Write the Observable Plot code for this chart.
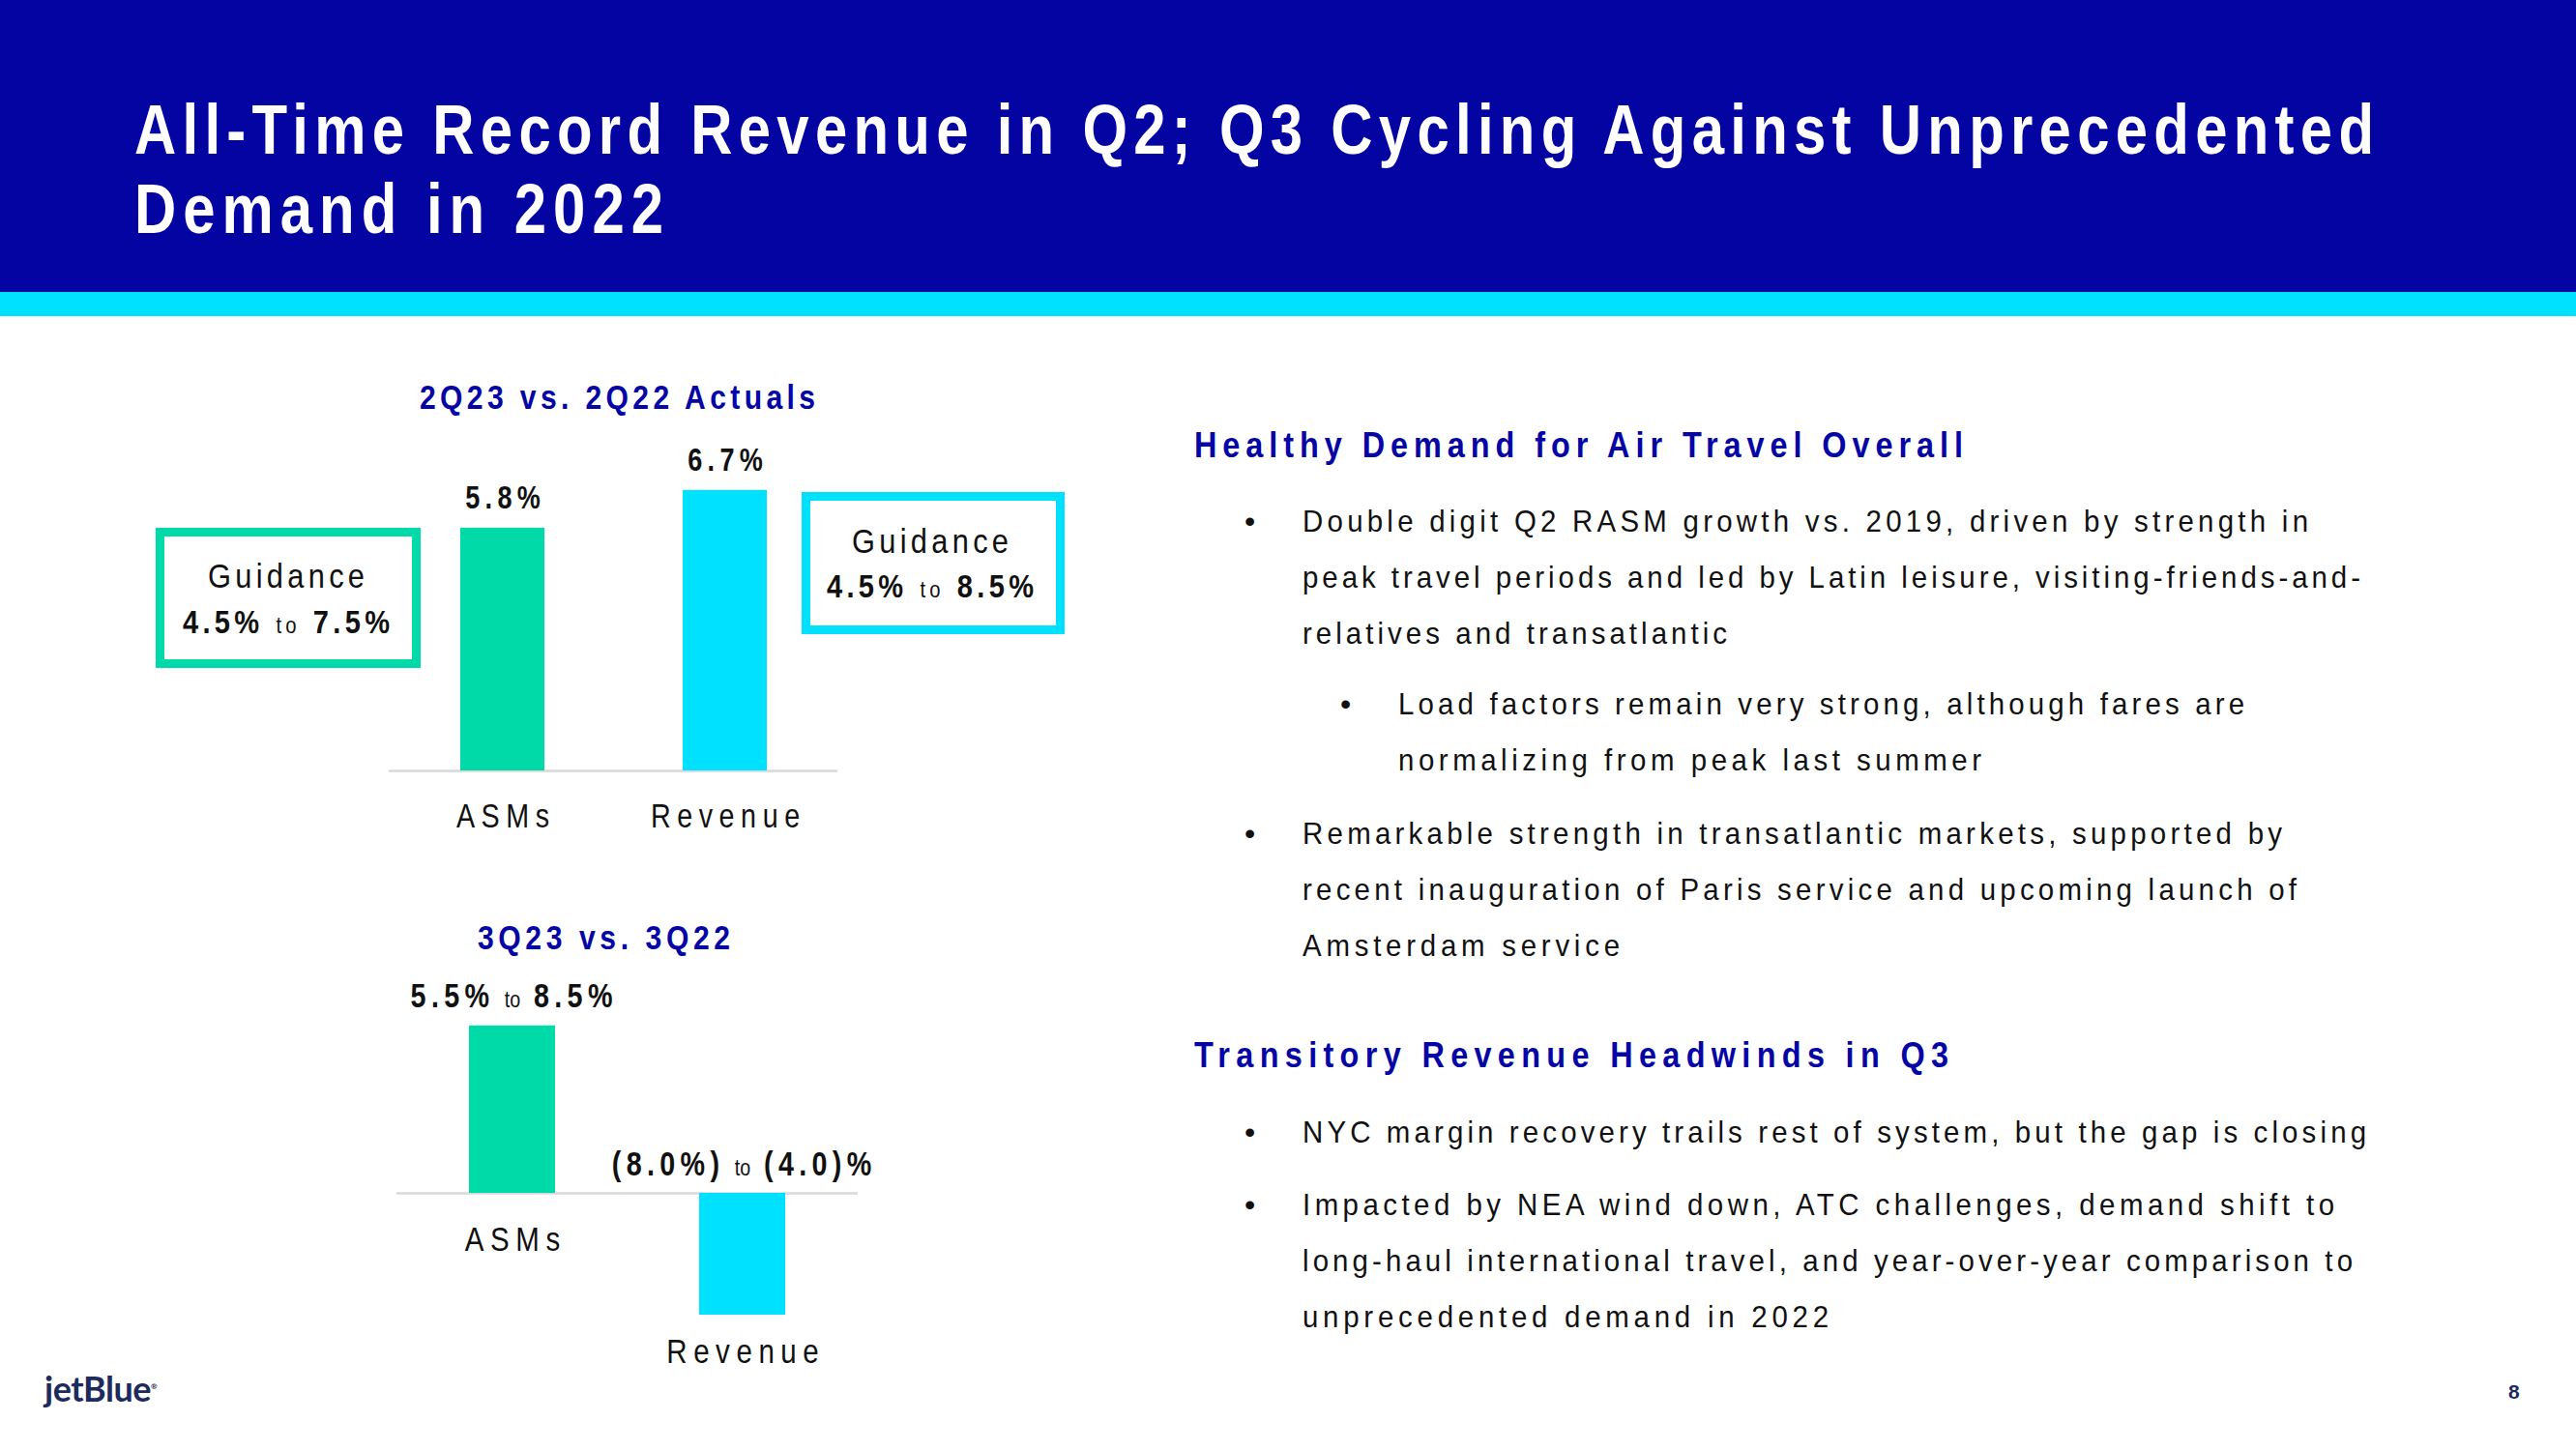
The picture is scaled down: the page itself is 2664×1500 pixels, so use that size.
<!DOCTYPE html>
<html>
<head>
<meta charset="utf-8">
<script src="https://cdn.jsdelivr.net/npm/d3@7"></script>
<script src="https://cdn.jsdelivr.net/npm/@observablehq/plot@0.6"></script>
<style>
html, body { margin: 0; padding: 0; background: #fff; }
#page { position: relative; width: 2664px; height: 1500px; overflow: hidden; background: #fff;
  font-family: "Liberation Sans Narrow", "Arial Narrow", "Liberation Sans", Arial, sans-serif; }
#header { position: absolute; left: 0; top: 0; width: 2664px; height: 302px; background: #0404A3; }
#stripe { position: absolute; left: 0; top: 302px; width: 2664px; height: 25px; background: #00E0FF; }
.txt { position: absolute; left: 0; top: 0; white-space: nowrap; line-height: 1; z-index: 5; }
.bl { display: inline-block; width: 0; height: 0; vertical-align: baseline; }
.title { color: #fff; font-weight: 700; font-size: 73px; line-height: 82px; }
.head { color: #0505A5; font-weight: 700; font-size: 36px; }
.body { color: #111; font-size: 32px; }
.bullet { color: #111; font-size: 32px; font-family: "Liberation Sans", Arial, sans-serif; }
.ctitle { color: #0505A5; font-weight: 700; font-size: 35px; }
.guide { color: #111; font-size: 35px; }
.guide b { font-weight: 700; font-size: 33px; }
.guide .to { font-size: 23px; }
.box { position: absolute; box-sizing: border-box; border: 9px solid; z-index: 4; }
.chart { position: absolute; left: 0; z-index: 2; }
.logo { color: #1D2A5D; font-family: Lato, "Open Sans", sans-serif; font-weight: 700; font-size: 36px; letter-spacing: -0.5px; }
.logo sup { font-size: 8px; }
.pnum { color: #1D2A5D; font-family: "Liberation Sans", Arial, sans-serif; font-weight: 700; font-size: 21px; }
</style>
</head>
<body>
<div id="page">
  <div id="header"></div>
  <div id="stripe"></div>
</div>
<script>
// ---------------- DATA ----------------
const q2Categories = ["ASMs", "Revenue"];
const q2Actuals = [5.8, 6.7];            // 2Q23 vs 2Q22 actual % change
const q2GuidanceLow = [4.5, 4.5];
const q2GuidanceHigh = [7.5, 8.5];

const q3Categories = ["ASMs", "Revenue"];
const q3BarValues = [5.5, -4.0];         // bar lengths as drawn
const q3LowLabels = ["5.5%", "(8.0%)"];
const q3HighLabels = ["8.5%", "(4.0)%"];

const titleLines = ["All-Time Record Revenue in Q2; Q3 Cycling Against Unprecedented", "Demand in 2022"];
const chartTitles = ["2Q23 vs. 2Q22 Actuals", "3Q23 vs. 3Q22"];
const headings = ["Healthy Demand for Air Travel Overall", "Transitory Revenue Headwinds in Q3"];
const bodyLines = [
  "Double digit Q2 RASM growth vs. 2019, driven by strength in",
  "peak travel periods and led by Latin leisure, visiting-friends-and-",
  "relatives and transatlantic",
  "Load factors remain very strong, although fares are",
  "normalizing from peak last summer",
  "Remarkable strength in transatlantic markets, supported by",
  "recent inauguration of Paris service and upcoming launch of",
  "Amsterdam service",
  "NYC margin recovery trails rest of system, but the gap is closing",
  "Impacted by NEA wind down, ATC challenges, demand shift to",
  "long-haul international travel, and year-over-year comparison to",
  "unprecedented demand in 2022"
];
const bulletStarts = [0, 3, 5, 8, 9];   // indices of lines that start a bullet

// ---------------- STYLE ----------------
const GREEN = "#00D9A8", CYAN = "#00E0FF";
const page = document.getElementById("page");

function hasFont(name) {
  const c = document.createElement("canvas").getContext("2d");
  const s = "mmmmmmmmmmlli1234567890WWAS";
  c.font = "40px monospace"; const a = c.measureText(s).width;
  c.font = `40px "${name}", monospace`; const b = c.measureText(s).width;
  return a !== b;
}
const narrow = hasFont("Liberation Sans Narrow");
// emulate a narrow face by horizontal condensing when no narrow font is installed
const cond = k => narrow ? 1 : k;
const SX = cond(0.82);
const chartFont = narrow ? '"Liberation Sans Narrow", sans-serif' : '"Liberation Sans", Arial, sans-serif';
const LS = narrow ? {value: 5, cat: 6} : {value: 6.5, cat: 8};

// ---------------- TEXT HELPERS ----------------
const items = [];
function addText(html, cls, x, y, w, anchor = "start", sx = SX) {
  const d = document.createElement("div");
  d.className = "txt " + cls;
  d.innerHTML = html + '<span class="bl"></span>';
  page.appendChild(d);
  items.push({d, x, y, w, anchor, sx});
  return d;
}
function fitSpan(el, w, sx) {
  el.style.letterSpacing = "0px";
  const nat = el.getBoundingClientRect().width;
  const n = el.textContent.length;
  el.style.letterSpacing = ((w / sx - nat) / Math.max(1, n - 1)) + "px";
}
function layout() {
  const pr = page.getBoundingClientRect();
  for (const it of items) {
    const d = it.d;
    d.style.transform = "none";
    d.style.left = "0px"; d.style.top = "0px";
    const parts = d.querySelectorAll("[data-w]");
    let ink;
    if (parts.length) {
      parts.forEach(p => fitSpan(p, +p.dataset.w, it.sx));
      ink = Math.max(...[...parts].map(p => +p.dataset.w));
    } else if (it.w) {
      fitSpan(d, it.w, it.sx);
      ink = it.w;
    } else {
      ink = d.getBoundingClientRect().width * it.sx;
    }
    d.style.transformOrigin = "0 0";
    d.style.transform = `scaleX(${it.sx})`;
    let left = it.x;
    if (it.anchor === "middle") left -= ink / 2;
    else if (it.anchor === "end") left -= ink;
    d.style.left = left + "px";
    const b = d.querySelector(".bl").getBoundingClientRect().top - pr.top;
    d.style.top = (it.y - b) + "px";
  }
}
function condense(svg, sx, spacingFor) {
  svg.querySelectorAll("text").forEach(t => {
    const fs = parseFloat(getComputedStyle(t).fontSize);
    t.style.letterSpacing = spacingFor(fs) + "px";
    if (sx === 1) return;
    const tr = t.getAttribute("transform");
    if (tr) t.setAttribute("transform", tr + ` scale(${sx},1)`);
    else {
      const x = +t.getAttribute("x") || 0, y = +t.getAttribute("y") || 0;
      t.setAttribute("transform", `translate(${x},${y}) scale(${sx},1) translate(${-x},${-y})`);
    }
  });
}
const fmt = v => v.toFixed(1) + "%";

// ---------------- HEADER ----------------
addText(`<span data-w="2316">${titleLines[0]}</span><br><span data-w="547">${titleLines[1]}</span>`, "title", 139, 241, null, "start", cond(0.82));

// ---------------- CHART 1 (2Q23 vs 2Q22) ----------------
addText(chartTitles[0], "ctitle", 638, 423, 409, "middle", cond(0.86));
const q2Data = q2Categories.map((c, i) => ({category: c, value: q2Actuals[i], label: fmt(q2Actuals[i])}));
const chart1 = Plot.plot({
  width: 1150, height: 560,
  marginLeft: 402, marginRight: 284, marginTop: 132.25, marginBottom: 103,
  style: {background: "transparent", fontFamily: chartFont, overflow: "visible"},
  x: {domain: q2Categories, paddingInner: 0.623, paddingOuter: 0.316, axis: null},
  y: {domain: [0, 7.5], axis: null},
  color: {domain: q2Categories, range: [GREEN, CYAN]},
  marks: [
    Plot.ruleY([0], {stroke: "#D9D9D9", strokeWidth: 2.5}),
    Plot.barY(q2Data, {x: "category", y: "value", fill: "category"}),
    Plot.text(q2Data, {x: "category", y: "value", text: "label", lineAnchor: "bottom", dy: -20,
      fontSize: 33, fontWeight: 700, fill: "#111", dx: LS.value * SX / 2}),
    Plot.text(q2Data, {x: "category", y: 0, text: "category", lineAnchor: "bottom", dy: 58,
      fontSize: 35, fill: "#111", dx: LS.cat * SX / 2})
  ]
});
const c1 = document.createElement("div");
c1.className = "chart"; c1.style.top = "340px";
c1.appendChild(chart1); page.appendChild(c1);
condense(chart1, SX, fs => fs === 35 ? LS.cat : LS.value);

// guidance boxes
const boxes = [
  {left: 161, top: 546, w: 274, h: 145, color: GREEN, cx: 296, y1: 608, y2: 655},
  {left: 829, top: 509, w: 272, h: 147, color: CYAN, cx: 962, y1: 572, y2: 618}
];
boxes.forEach((b, i) => {
  const el = document.createElement("div");
  el.className = "box";
  Object.assign(el.style, {left: b.left + "px", top: b.top + "px", width: b.w + "px", height: b.h + "px", borderColor: b.color});
  page.appendChild(el);
  addText("Guidance", "guide", b.cx, b.y1, 162, "middle", cond(0.88));
  addText(`<b>${fmt(q2GuidanceLow[i])}</b> <span class="to">to</span> <b>${fmt(q2GuidanceHigh[i])}</b>`, "guide", b.cx, b.y2, 214, "middle", cond(0.88));
});

// ---------------- CHART 2 (3Q23 vs 3Q22) ----------------
addText(chartTitles[1], "ctitle", 624, 982, 261, "middle", cond(0.86));
const q3Data = q3Categories.map((c, i) => ({category: c, value: q3BarValues[i], low: q3LowLabels[i], high: q3HighLabels[i]}));
const labelY = d => Math.max(d.value, 0);
const chart2 = Plot.plot({
  width: 1150, height: 540,
  marginLeft: 410, marginRight: 263, marginTop: 113.5, marginBottom: 64.25,
  style: {background: "transparent", fontFamily: chartFont, overflow: "visible"},
  x: {domain: q3Categories, paddingInner: 0.626, paddingOuter: 0.315, axis: null},
  y: {domain: [-4.5, 7], axis: null},
  color: {domain: q3Categories, range: [GREEN, CYAN]},
  marks: [
    Plot.ruleY([0], {stroke: "#D9D9D9", strokeWidth: 2.5}),
    Plot.barY(q3Data, {x: "category", y: "value", fill: "category"}),
    Plot.text(q3Data, {x: "category", y: labelY, text: "low", textAnchor: "end", dx: -24 + LS.value * SX, lineAnchor: "bottom", dy: -19,
      fontSize: 35, fontWeight: 700, fill: "#111"}),
    Plot.text(q3Data, {x: "category", y: labelY, text: () => "to", lineAnchor: "bottom", dy: -19,
      fontSize: 24, fill: "#111"}),
    Plot.text(q3Data, {x: "category", y: labelY, text: "high", textAnchor: "start", dx: 22, lineAnchor: "bottom", dy: -19,
      fontSize: 35, fontWeight: 700, fill: "#111"}),
    Plot.text(q3Data.filter(d => d.value >= 0), {x: "category", y: 0, text: "category", lineAnchor: "bottom", dy: 59,
      fontSize: 36, fill: "#111", dx: LS.cat * SX / 2}),
    Plot.text(q3Data.filter(d => d.value < 0), {x: "category", y: "value", text: "category", lineAnchor: "bottom", dy: 49,
      fontSize: 36, fill: "#111", dx: LS.cat * SX / 2})
  ]
});
const c2 = document.createElement("div");
c2.className = "chart"; c2.style.top = "900px";
c2.appendChild(chart2); page.appendChild(c2);
condense(chart2, SX, fs => fs === 36 ? LS.cat : fs === 24 ? 0 : LS.value);

// ---------------- RIGHT COLUMN ----------------
addText(headings[0], "head", 1235, 473, 795, "start", cond(0.9));
addText(headings[1], "head", 1235, 1104, 780, "start", cond(0.9));
const bodyLayout = [
  [1347, 550, 1040], [1347, 608, 1094], [1347, 666, 439],
  [1446, 739, 875], [1446, 797, 603],
  [1347, 873, 1013], [1347, 931, 1028], [1347, 989, 328],
  [1347, 1182, 1100],
  [1347, 1257, 1067], [1347, 1315, 1086], [1347, 1373, 544]
];
bodyLines.forEach((t, i) => {
  const [x, y, w] = bodyLayout[i];
  addText(t, "body", x, y, w, "start", cond(0.92));
  if (bulletStarts.includes(i)) addText("\u2022", "bullet", x - 60, y, null, "start", 1);
});

// ---------------- FOOTER ----------------
addText('jetBlue<sup>®</sup>', "logo", 46, 1450, null, "start", 1);
addText("8", "pnum", 2594, 1447, null, "start", 1);

layout();
if (document.fonts && document.fonts.ready) document.fonts.ready.then(layout);
</script>
</body>
</html>
